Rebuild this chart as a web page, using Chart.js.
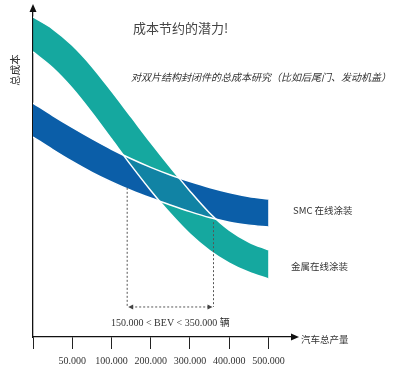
<!DOCTYPE html>
<html>
<head>
<meta charset="utf-8">
<script src="https://cdn.jsdelivr.net/npm/chart.js@4.4.1/dist/chart.umd.min.js"></script>
<style>
  html, body { margin: 0; padding: 0; background: #fff; }
  canvas { display: block; }
</style>
</head>
<body>
<canvas id="costChart" width="397" height="370"></canvas>
<script>
// production volume axis (tick index), and its labels
const xPos = [0, 0.5, 1, 1.5, 2, 2.5, 3, 3.5, 4, 4.5, 5, 5.5, 6];
const xTickLabels = ['', '50.000', '100.000', '200.000', '300.000', '400.000', '500.000'];

// total cost bands (relative units)
const smcUpper   = [70.9, 67.1, 63.5, 60.1, 56.9, 54.0, 51.4, 49.1, 47.1, 45.3, 43.8, 42.6, 41.8];
const smcLower   = [60.6, 56.8, 53.2, 49.9, 47.0, 44.4, 42.1, 40.0, 38.0, 36.2, 34.8, 33.9, 33.3];
const metalUpper = [97.0, 93.4, 88.4, 82.0, 74.5, 66.7, 58.9, 51.4, 44.2, 37.6, 32.4, 28.8, 26.4];
const metalLower = [86.4, 81.6, 75.4, 68.0, 60.0, 52.0, 44.4, 37.4, 31.2, 26.2, 22.4, 19.6, 17.6];

// break-even range: x index of the two marks, where the marks start, bracket level
const bevX = [2.4, 4.6];
const bevTop = [45.2, 34.8];
const bevBase = 9.1;

const blue = '#0b5ea8';
const teal = '#15a89f';
const tealHalf = 'rgba(21,168,159,0.5)';
const cjk = '"Noto Sans CJK SC", "Noto Sans", sans-serif';
const serif = '"Liberation Serif", "Noto Sans CJK SC", serif';

const pts = arr => xPos.map((x, i) => ({ x: x, y: arr[i] }));

// switch canvas blending between datasets (teal over blue gives the mixed overlap)
const blendPlugin = {
  id: 'blend',
  beforeDatasetsDraw(chart) {
    const metas = chart.getSortedVisibleDatasetMetas();
    const first = chart.data.datasets[metas[metas.length - 1].index];
    chart.ctx.globalCompositeOperation = first.blend || 'source-over';
  },
  afterDatasetDraw(chart, args) {
    const metas = chart.getSortedVisibleDatasetMetas();
    const pos = metas.indexOf(args.meta);
    const next = pos > 0 ? chart.data.datasets[metas[pos - 1].index] : null;
    chart.ctx.globalCompositeOperation = (next && next.blend) || 'source-over';
  }
};

function triangle(ctx, a, b, c) {
  ctx.beginPath();
  ctx.moveTo(a[0], a[1]);
  ctx.lineTo(b[0], b[1]);
  ctx.lineTo(c[0], c[1]);
  ctx.closePath();
  ctx.fill();
}

const notesPlugin = {
  id: 'notes',
  afterDraw(chart) {
    const { ctx, scales: { x, y } } = chart;
    ctx.save();
    ctx.globalCompositeOperation = 'source-over';

    // axis arrows
    const x0 = x.getPixelForValue(0);
    ctx.fillStyle = '#111';
    triangle(ctx, [x0, y.top - 3], [x0 - 3.5, y.top + 5], [x0 + 3.5, y.top + 5]);
    triangle(ctx, [x.right + 7, y.bottom], [x.right - 1, y.bottom - 3.5], [x.right - 1, y.bottom + 3.5]);

    // break-even marks
    const xl = x.getPixelForValue(bevX[0]);
    const xr = x.getPixelForValue(bevX[1]);
    const yb = y.getPixelForValue(bevBase);
    ctx.strokeStyle = '#555';
    ctx.lineWidth = 1;
    ctx.setLineDash([2, 2]);
    ctx.beginPath();
    ctx.moveTo(xl, y.getPixelForValue(bevTop[0]));
    ctx.lineTo(xl, yb);
    ctx.moveTo(xr, y.getPixelForValue(bevTop[1]));
    ctx.lineTo(xr, yb);
    ctx.moveTo(xl + 4, yb);
    ctx.lineTo(xr - 4, yb);
    ctx.stroke();
    ctx.setLineDash([]);
    ctx.fillStyle = '#444';
    triangle(ctx, [xl + 1, yb], [xl + 6, yb - 2.5], [xl + 6, yb + 2.5]);
    triangle(ctx, [xr - 1, yb], [xr - 6, yb - 2.5], [xr - 6, yb + 2.5]);

    // texts
    ctx.textBaseline = 'middle';
    ctx.textAlign = 'left';
    ctx.fillStyle = '#444';
    ctx.font = '13px ' + cjk;
    ctx.fillText('成本节约的潜力!', 133, 28);

    ctx.fillStyle = '#333';
    ctx.font = 'italic 10px ' + cjk;
    ctx.fillText('对双片结构封闭件的总成本研究（比如后尾门、发动机盖）', 131, 77);

    ctx.font = '9.5px ' + cjk;
    ctx.fillText('SMC 在线涂装', 293, 210);
    ctx.fillText('金属在线涂装', 291, 266);
    ctx.fillText('汽车总产量', 301, 339);

    ctx.textAlign = 'center';
    ctx.font = '10px ' + serif;
    ctx.fillText('150.000 < BEV < 350.000 辆', (xl + xr) / 2, 323);

    ctx.translate(15, 70);
    ctx.rotate(-Math.PI / 2);
    ctx.font = '10.5px ' + cjk;
    ctx.fillText('总成本', 0, 0);
    ctx.restore();
  }
};

const noLine = { borderWidth: 0, borderColor: 'transparent', pointRadius: 0 };
const edge = { borderWidth: 1.5, borderColor: '#ffffff', pointRadius: 0, fill: false, order: 1 };

new Chart(document.getElementById('costChart').getContext('2d'), {
  type: 'line',
  data: {
    datasets: [
      { ...noLine, data: pts(smcUpper), fill: false, order: 6 },
      { ...noLine, data: pts(smcLower), fill: 0, backgroundColor: blue, order: 5 },
      { ...noLine, data: pts(metalUpper), fill: false, order: 4 },
      { ...noLine, data: pts(metalLower), fill: 2, backgroundColor: tealHalf, order: 3, blend: 'source-atop' },
      { ...noLine, data: pts(metalLower), fill: 2, backgroundColor: teal, order: 2, blend: 'destination-over' },
      { ...edge, data: pts(smcUpper) },
      { ...edge, data: pts(smcLower) },
      { ...edge, data: pts(metalUpper) },
      { ...edge, data: pts(metalLower) }
    ]
  },
  options: {
    responsive: false,
    animation: false,
    events: [],
    layout: { padding: { left: 33, right: 105, top: 7, bottom: 0 } },
    elements: { line: { cubicInterpolationMode: 'monotone' } },
    plugins: { legend: { display: false }, tooltip: { enabled: false } },
    scales: {
      x: {
        type: 'linear',
        min: 0,
        max: 6.6,
        z: 1,
        afterFit: s => { s.height = 33; },
        afterBuildTicks: s => { s.ticks = xTickLabels.map((_, i) => ({ value: i })); },
        ticks: {
          callback: v => xTickLabels[v] || '',
          font: { family: serif, size: 10 },
          color: '#333',
          padding: 6,
          maxRotation: 0,
          autoSkip: false
        },
        grid: { drawOnChartArea: false, tickLength: 12, color: '#222', lineWidth: 1 },
        border: { color: '#111', width: 1.3 }
      },
      y: {
        min: 0,
        max: 100,
        z: 1,
        afterFit: s => { s.width = 0; },
        ticks: { display: false },
        grid: { display: false },
        border: { color: '#111', width: 1.3 }
      }
    }
  },
  plugins: [blendPlugin, notesPlugin]
});
</script>
</body>
</html>
